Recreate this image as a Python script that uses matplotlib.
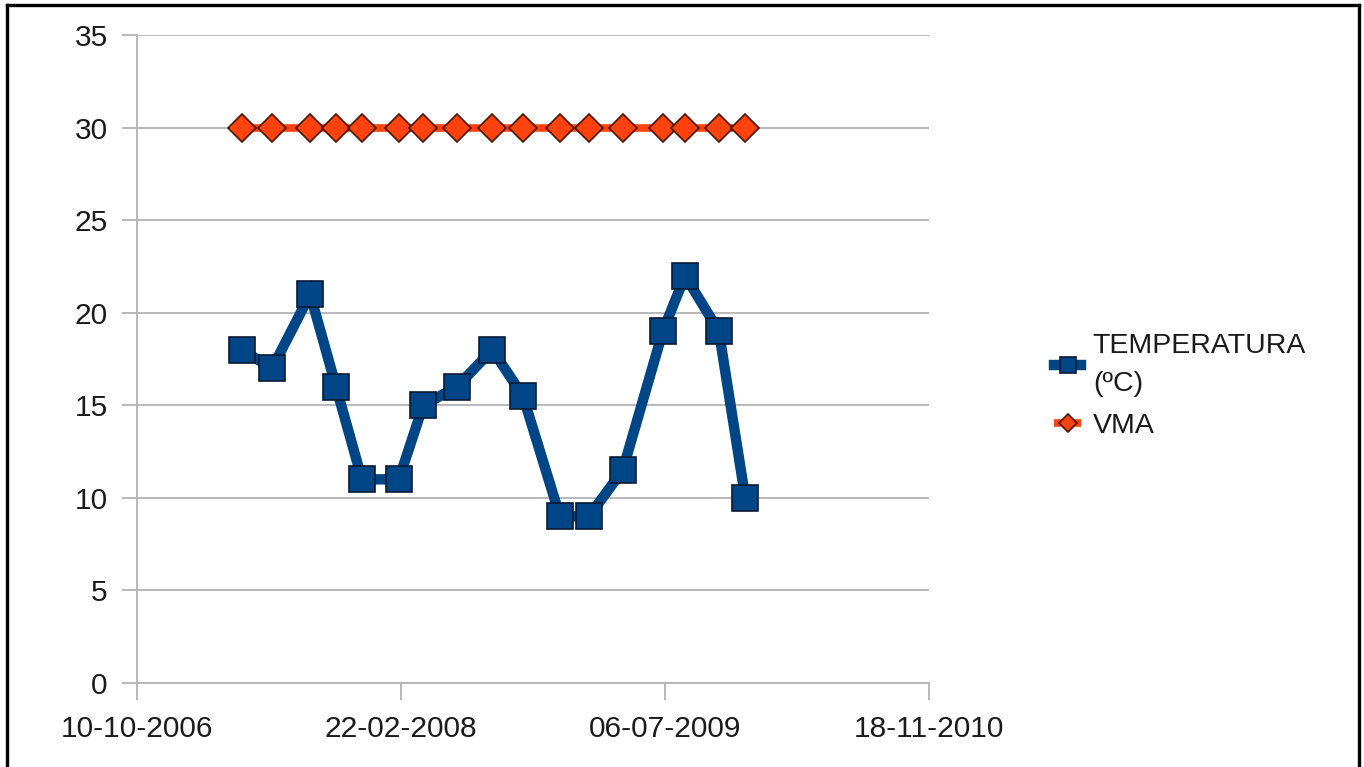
import matplotlib
matplotlib.use("Agg")
import matplotlib.pyplot as plt
import matplotlib.dates as mdates
from matplotlib.lines import Line2D
import numpy as np
import pandas as pd

# Sampling dates and readings
dates = ["2007-04-26", "2007-06-23", "2007-09-03", "2007-10-22", "2007-12-10",
         "2008-02-18", "2008-04-04", "2008-06-07", "2008-08-13", "2008-10-10",
         "2008-12-19", "2009-02-12", "2009-04-17", "2009-07-02", "2009-08-13",
         "2009-10-16", "2009-12-05"]
temperatura = [18, 17, 21, 16, 11, 11, 15, 16, 18, 15.5, 9, 9, 11.5, 19, 22, 19, 10]
vma = [30] * len(dates)

x_ticks = ["2006-10-10", "2008-02-22", "2009-07-06", "2010-11-18"]
y_ticks = [0, 5, 10, 15, 20, 25, 30, 35]

label_temp = "TEMPERATURA\n(ºC)"
label_vma = "VMA"

plt.rcParams["font.family"] = ["Liberation Sans", "DejaVu Sans"]

W, H = 1364, 767
fig = plt.figure(figsize=(W / 100, H / 100), dpi=100)
fig.patch.set_facecolor("white")

ax = fig.add_axes([137 / W, (H - 683) / H, (929 - 137) / W, (683 - 35) / H])

d = pd.to_datetime(dates)
xt = pd.to_datetime(x_ticks)

blue = "#004586"
orange = "#ff420e"

ax.plot(d, vma, color=orange, lw=5.5, marker="D", ms=14,
        markerfacecolor=orange, markeredgecolor="#4a1500", markeredgewidth=1.2,
        label=label_vma, zorder=3, solid_capstyle="butt")
ax.plot(d, temperatura, color=blue, lw=7.5, marker="s", ms=18.5,
        markerfacecolor=blue, markeredgecolor="#0a1a33", markeredgewidth=1.2,
        label=label_temp, zorder=4, solid_joinstyle="miter")

ax.set_xlim(xt[0], xt[-1])
ax.set_ylim(0, 35)
ax.set_xticks(xt)
ax.xaxis.set_major_formatter(mdates.DateFormatter("%d-%m-%Y"))
ax.set_yticks(y_ticks)

grid_c = "#b3b3b3"
ax.grid(axis="y", color=grid_c, lw=1.3)
ax.set_axisbelow(True)
for s in ["top", "right"]:
    ax.spines[s].set_visible(False)
for s in ["left", "bottom"]:
    ax.spines[s].set_color(grid_c)
    ax.spines[s].set_linewidth(1.3)

ax.tick_params(axis="y", direction="out", length=11, width=1.3, color=grid_c,
               labelsize=21.5, labelcolor="#1a1a1a", pad=10)
ax.tick_params(axis="x", direction="out", length=12, width=1.3, color=grid_c,
               labelsize=21.5, labelcolor="#1a1a1a", pad=11)

handles, labels = ax.get_legend_handles_labels()
leg = ax.legend(handles[::-1], labels[::-1], loc="upper left",
                bbox_to_anchor=(1043 / W, 1 - 322 / H), bbox_transform=fig.transFigure,
                frameon=False, fontsize=20.5, handlelength=0.95, handletextpad=0.4,
                markerscale=0.62, labelspacing=0.55, borderaxespad=0)
for t in leg.get_texts():
    t.set_color("#1a1a1a")
    t.set_linespacing(1.6)

# Black frame around the drawing
lw_frame = 2.4
fig.add_artist(Line2D([7 / W, 7 / W], [0, 1 - 5 / H], transform=fig.transFigure,
                      color="black", lw=lw_frame))
fig.add_artist(Line2D([7 / W, 1359 / W], [1 - 5 / H, 1 - 5 / H], transform=fig.transFigure,
                      color="black", lw=lw_frame))
fig.add_artist(Line2D([1359 / W, 1359 / W], [0, 1 - 5 / H], transform=fig.transFigure,
                      color="black", lw=lw_frame))

fig.savefig("out.png", dpi=100)
